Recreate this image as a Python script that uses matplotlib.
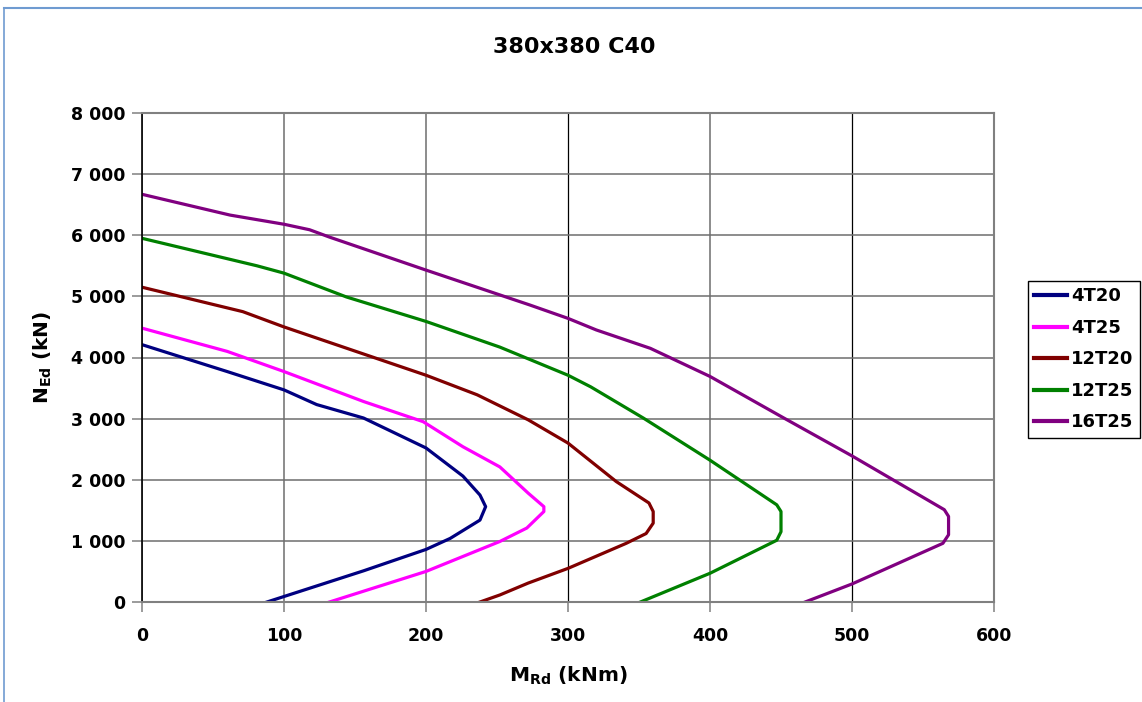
import numpy as np
import matplotlib.pyplot as plt
from matplotlib.lines import Line2D
from matplotlib.ticker import FuncFormatter

plt.rcParams['font.family'] = ['DejaVu Sans']

# interaction curves M_Rd (kNm) / N_Ed (kN)
m_4t20 = [0, 60, 100, 123, 156, 200, 226, 238, 242, 238, 217, 200, 156, 100, 88]
n_4t20 = [4210, 3770, 3470, 3230, 3010, 2520, 2060, 1750, 1560, 1340, 1040, 860, 510, 90, 0]

m_4t25 = [0, 60, 100, 156, 198, 226, 252, 272, 283, 283, 271, 252, 200, 132]
n_4t25 = [4480, 4100, 3770, 3280, 2950, 2540, 2210, 1780, 1560, 1480, 1210, 990, 500, 0]

m_12t20 = [0, 71, 100, 200, 236, 272, 300, 334, 357, 360, 360, 355, 341, 300, 272, 252, 238]
n_12t20 = [5150, 4750, 4500, 3710, 3390, 2980, 2600, 1970, 1620, 1480, 1290, 1120, 960, 550, 310, 115, 0]

m_12t25 = [0, 81, 100, 144, 200, 252, 300, 316, 353, 400, 447, 450, 450, 447, 400, 351]
n_12t25 = [5950, 5500, 5380, 4990, 4590, 4170, 3710, 3520, 3010, 2320, 1590, 1480, 1150, 1010, 470, 0]

m_16t25 = [0, 62, 100, 118, 132, 200, 273, 300, 320, 358, 400, 452, 500, 565, 568, 568, 564, 500, 467]
n_16t25 = [6670, 6330, 6180, 6090, 5970, 5430, 4860, 4640, 4450, 4150, 3690, 3010, 2390, 1510, 1400, 1100, 960, 295, 0]

labels = ['4T20', '4T25', '12T20', '12T25', '16T25']
colors = ['#000080', '#FF00FF', '#800000', '#008000', '#800080']
series = [(m_4t20, n_4t20), (m_4t25, n_4t25), (m_12t20, n_12t20),
          (m_12t25, n_12t25), (m_16t25, n_16t25)]

fig = plt.figure(figsize=(11.42, 7.02), dpi=100)
ax = fig.add_axes([142/1142, 1-602/702, 852/1142, 489/702])

for (m, n), lab, c in zip(series, labels, colors):
    ax.plot(m, n, color=c, lw=2.3, label=lab, solid_joinstyle='round')

ax.set_xlim(0, 600)
ax.set_ylim(0, 8000)
ax.set_xticks(np.arange(0, 601, 100))
ax.set_yticks(np.arange(0, 8001, 1000))
ax.yaxis.set_major_formatter(FuncFormatter(lambda v, p: f'{int(v):,}'.replace(',', ' ')))
ax.grid(True, color='#6e6e6e', lw=1.1)
ax.set_axisbelow(True)
# the 300 and 500 verticals render darker in the original
for i, gl in enumerate(ax.get_xgridlines()):
    if i in (3, 5):
        gl.set_color('black')
        gl.set_linewidth(0.9)
for s in ['top', 'right', 'bottom']:
    ax.spines[s].set_color('#808080')
    ax.spines[s].set_linewidth(1.5)
ax.spines['left'].set_color('black')
ax.spines['left'].set_linewidth(1.2)
ax.tick_params(direction='out', length=7, color='#808080', width=1.1,
               labelsize=12.5)
ax.tick_params(axis='x', pad=11)
ax.tick_params(axis='y', pad=5)
for t in ax.get_xticklabels() + ax.get_yticklabels():
    t.set_fontweight('bold')

ax.set_xlabel(r'M$_{\mathbf{Rd}}$ (kNm)', fontsize=14.5, fontweight='bold', labelpad=14)
ax.set_ylabel(r'N$_{\mathbf{Ed}}$ (kN)', fontsize=14.5, fontweight='bold', labelpad=12)
fig.text(0.503, 1-47/702, '380x380 C40', ha='center', va='center',
         fontsize=16, fontweight='bold')

leg = ax.legend(loc='upper left', bbox_to_anchor=(1028/1142, 1-281/702),
                bbox_transform=fig.transFigure, borderaxespad=0,
                fancybox=False, edgecolor='black', framealpha=1,
                prop={'size': 13, 'weight': 'bold'}, handlelength=1.8,
                handletextpad=0.25, labelspacing=0.75, borderpad=0.35)
leg.get_frame().set_linewidth(1.0)
for h in leg.get_lines():
    h.set_linewidth(3)

# page border lines (left and top)
fig.add_artist(Line2D([4/1142, 4/1142], [0, 1-8/702], color='#6f9bd1', lw=1.2))
fig.add_artist(Line2D([4/1142, 1], [1-8/702, 1-8/702], color='#6f9bd1', lw=1.5))

fig.savefig('out.png', dpi=100)
